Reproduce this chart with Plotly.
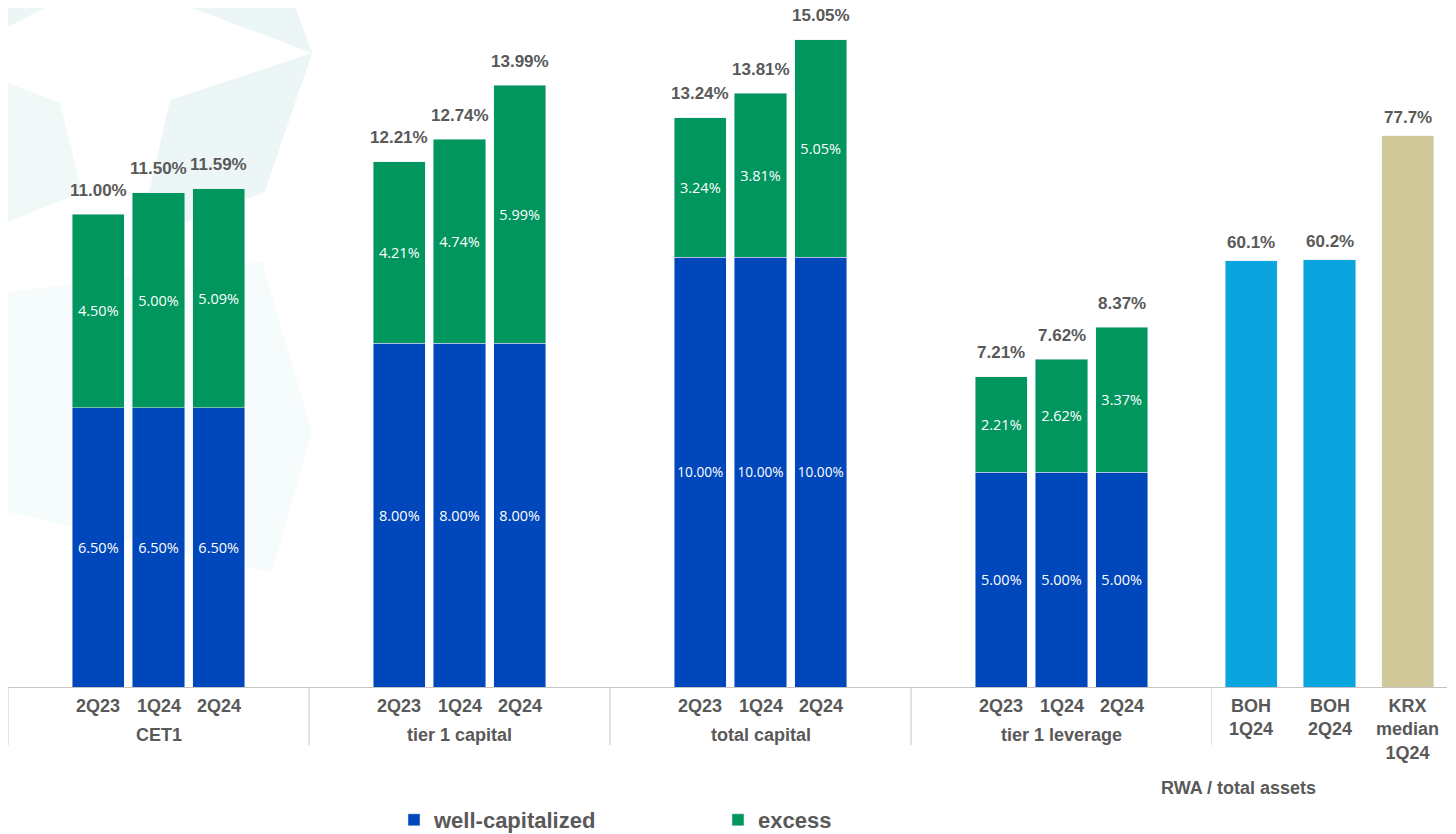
import plotly.graph_objects as go

# data
groups = ["CET1", "tier 1 capital", "total capital", "tier 1 leverage"]
quarters = ["2Q23", "1Q24", "2Q24"]
well_capitalized = [6.50, 6.50, 6.50, 8.00, 8.00, 8.00, 10.00, 10.00, 10.00, 5.00, 5.00, 5.00]
excess = [4.50, 5.00, 5.09, 4.21, 4.74, 5.99, 3.24, 3.81, 5.05, 2.21, 2.62, 3.37]
totals = [11.00, 11.50, 11.59, 12.21, 12.74, 13.99, 13.24, 13.81, 15.05, 7.21, 7.62, 8.37]

rwa_labels = ["BOH<br>1Q24", "BOH<br>2Q24", "KRX<br>median<br>1Q24"]
rwa_values = [60.1, 60.2, 77.7]
rwa_colors = ["#0AA5DE", "#0AA5DE", "#D2C99B"]
rwa_title = "RWA / total assets"

BLUE = "#0047BB"
GREEN = "#00965E"
GRAY = "#595959"
LINE = "#C4C4C4"

# the page body has an 8px margin, so the figure is drawn 8px in from the window edge
OFF = 8
W, H = 1456 - 2 * OFF, 834 - OFF
AXIS_ROW = 687                # screen row of the x axis line
BASE = AXIS_ROW - OFF         # plot area height (top margin is 0)
PX_PER_PCT = 43.0             # capital ratios scale
PX_PER_PCT2 = 7.094           # RWA scale

# each capital group gets 5 slots: blank, 3 quarters, blank
slots = [g * 5 + 1 + q for g in range(len(groups)) for q in range(len(quarters))]
tick_text = [quarters[q] for g in range(len(groups)) for q in range(len(quarters))]
rwa_slots = list(range(len(rwa_values)))


def py(p):  # screen row -> paper y
    return (BASE - (p - OFF)) / BASE


def px(p):  # screen column -> paper x
    return max(p - OFF, 0) / W


fig = go.Figure()

fig.add_trace(go.Bar(
    x=slots, y=well_capitalized, name="well-capitalized", marker_color=BLUE,
    width=0.864, texttemplate="%{y:.2f}%", textposition="inside", textangle=0,
    insidetextanchor="middle", hoverinfo="skip",
    textfont=dict(color="white", size=14.5, family="Open Sans"),
))
fig.add_trace(go.Bar(
    x=slots, y=excess, name="excess", marker_color=GREEN,
    width=0.864, texttemplate="%{y:.2f}%", textposition="inside", textangle=0,
    insidetextanchor="middle", hoverinfo="skip",
    textfont=dict(color="white", size=14.5, family="Open Sans"),
))
fig.add_trace(go.Bar(
    x=rwa_slots, y=rwa_values, marker_color=rwa_colors, width=0.664,
    xaxis="x2", yaxis="y2", showlegend=False, hoverinfo="skip",
))

bold = dict(family="Liberation Sans, Arial", color=GRAY, weight="bold")

# total labels above the stacks
for x, t in zip(slots, totals):
    fig.add_annotation(x=x, y=t, xref="x", yref="y", text=f"{t:.2f}%",
                       showarrow=False, yanchor="middle", yshift=24,
                       font=dict(bold, size=17))
for x, v in zip(rwa_slots, rwa_values):
    fig.add_annotation(x=x, y=v, xref="x2", yref="y2", text=f"{v:.1f}%",
                       showarrow=False, yanchor="middle", yshift=18,
                       font=dict(bold, size=17))

# category labels
for x, t in zip(slots, tick_text):
    fig.add_annotation(x=x, y=py(706), xref="x", yref="paper", text=t,
                       showarrow=False, yanchor="middle", font=dict(bold, size=18))
for g, name in enumerate(groups):
    fig.add_annotation(x=g * 5 + 2, y=py(735), xref="x", yref="paper", text=name,
                       showarrow=False, yanchor="middle", font=dict(bold, size=18))
for x, t in zip(rwa_slots, rwa_labels):
    fig.add_annotation(x=x, y=py(694), xref="x2", yref="paper", text=t,
                       showarrow=False, yanchor="top", font=dict(bold, size=18))
fig.add_annotation(x=px(1318), y=py(788), xref="paper", yref="paper", text=rwa_title,
                   showarrow=False, yanchor="middle", font=dict(bold, size=18))

# group dividers below the axis
for b in range(len(groups) + 1):
    fig.add_shape(type="line", xref="x", yref="paper", x0=b * 5 - 0.5, x1=b * 5 - 0.5,
                  y0=0, y1=py(745), line=dict(color=LINE, width=1))

# faint watermark shapes in the background
polys = [
    ([(0, 0), (60, 0), (0, 27)], 0.07),
    ([(170, 0), (293, 0), (312, 53)], 0.07),
    ([(170, 100), (312, 53), (265, 192), (138, 240)], 0.07),
    ([(0, 83), (60, 103), (82, 192), (0, 222)], 0.06),
    ([(0, 292), (262, 262), (312, 432), (272, 572), (0, 512)], 0.035),
]
for poly, alpha in polys:
    path = "M " + " L ".join(f"{px(a):.4f},{py(b):.4f}" for a, b in poly) + " Z"
    fig.add_shape(type="path", xref="paper", yref="paper", path=path,
                  fillcolor=f"rgba(0,128,128,{alpha})", line=dict(width=0), layer="below")

fig.update_layout(
    width=W, height=H,
    margin=dict(l=0, r=0, t=0, b=H - BASE),
    paper_bgcolor="white", plot_bgcolor="rgba(0,0,0,0)",
    barmode="stack",
    uniformtext=dict(minsize=14.5, mode="show"),
    xaxis=dict(domain=[px(7.7), px(1212)], range=[-0.5, len(groups) * 5 - 0.5],
               showticklabels=False, showgrid=False, zeroline=False,
               showline=True, linecolor=LINE, linewidth=1, ticks=""),
    xaxis2=dict(domain=[px(1212), px(1447)], range=[-0.5, len(rwa_values) - 0.5],
                anchor="y2", showticklabels=False, showgrid=False, zeroline=False,
                showline=True, linecolor=LINE, linewidth=1, ticks=""),
    yaxis=dict(range=[0, BASE / PX_PER_PCT], visible=False),
    yaxis2=dict(range=[0, BASE / PX_PER_PCT2], visible=False, anchor="x2"),
    showlegend=True,
    legend=dict(orientation="h", x=px(394), xanchor="left",
                yref="container", y=1 - (820 - OFF) / H, yanchor="middle",
                entrywidth=279, entrywidthmode="pixels", traceorder="normal",
                font=dict(bold, size=22), bgcolor="rgba(0,0,0,0)"),
)

fig.write_html("out.html")
